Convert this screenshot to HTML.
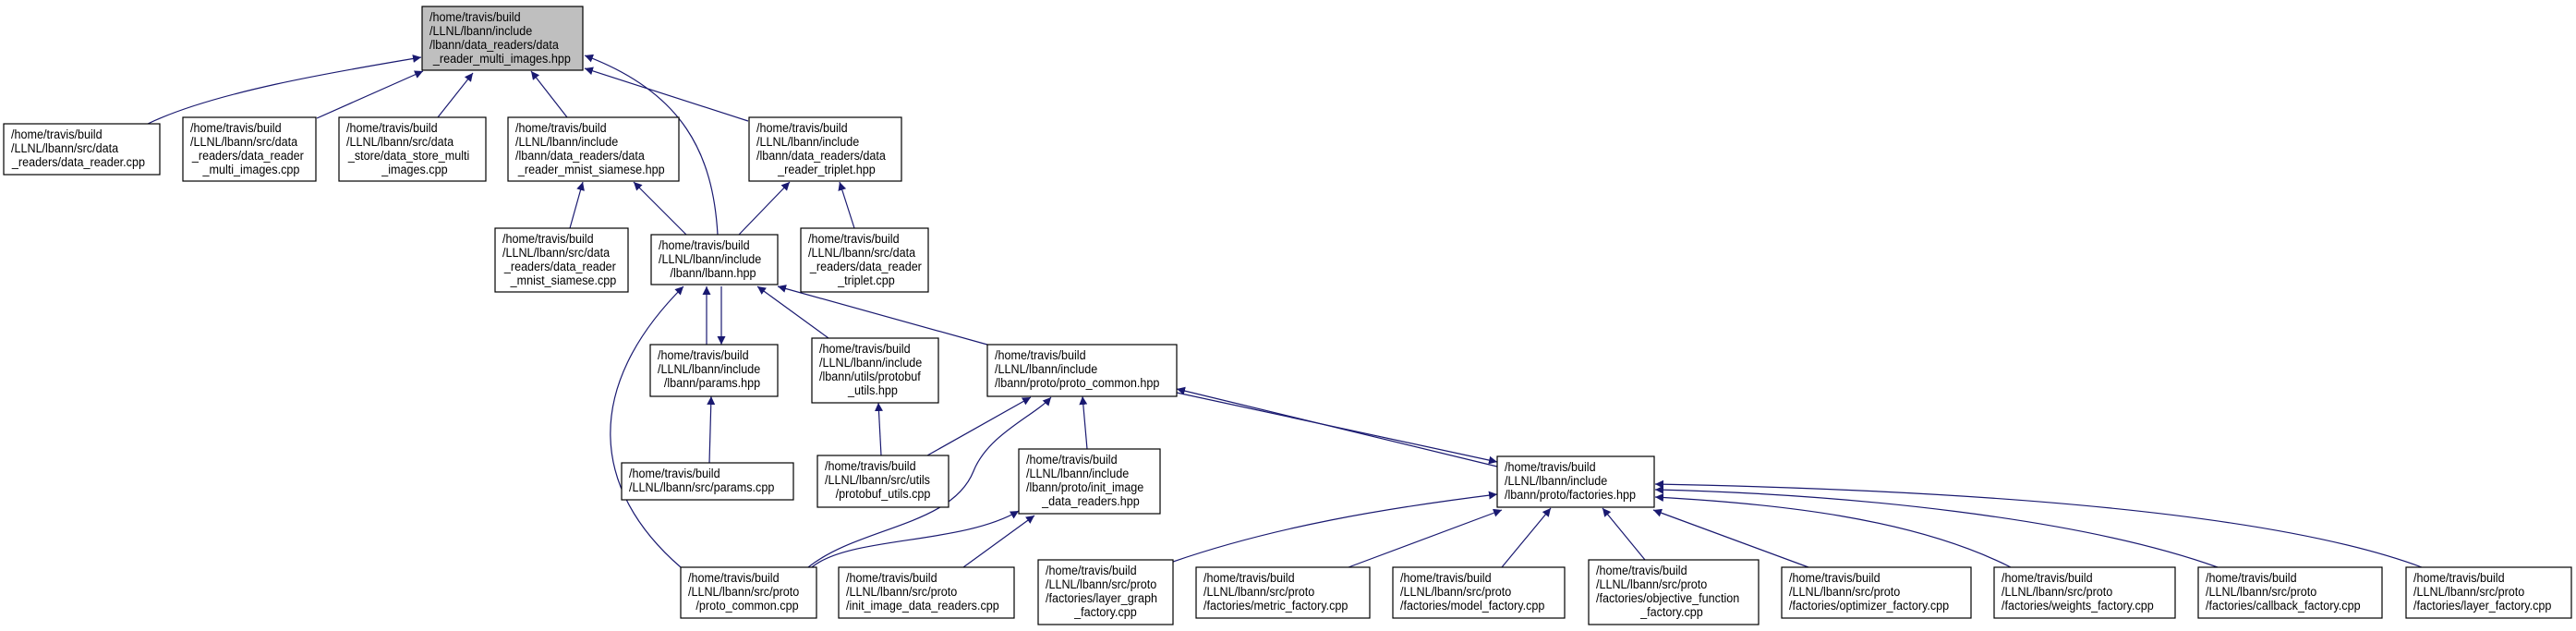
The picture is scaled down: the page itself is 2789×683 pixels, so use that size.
<!DOCTYPE html>
<html><head><meta charset="utf-8"><style>
html,body{margin:0;padding:0;background:#fff;}
svg{display:block;}
text{font-family:"Liberation Sans",sans-serif;font-size:14px;fill:#000;transform-box:fill-box;transform-origin:0 50%;transform:scaleX(0.9);}
text.m{transform-origin:50% 50%;}
.e{fill:none;stroke:#191970;stroke-width:1.2;}
.n{fill:#fff;stroke:#000;stroke-width:1.2;}
</style></head><body>
<svg width="2789" height="683" viewBox="0 0 2789 683" xmlns="http://www.w3.org/2000/svg">
<defs>
<marker id="a" viewBox="0 0 10 10" refX="10" refY="5" markerWidth="9" markerHeight="9" orient="auto" markerUnits="userSpaceOnUse">
<path d="M0,0 L10,5 L0,10 z" fill="#191970"/></marker>
</defs>
<g class="e" marker-end="url(#a)">
<path d="M160,134 C230,100 360,78 456,62"/>
<path d="M343,128 L458,77"/>
<path d="M474,127 L512,79"/>
<path d="M614,127 L575,77"/>
<path d="M810,131 L633,74"/>
<path d="M777,254 C772,167 740,100 633,60"/>
<path d="M617,247 L631,197"/>
<path d="M743,254 L686,197"/>
<path d="M800,254 L855,197"/>
<path d="M925,247 L909,197"/>
<path d="M765,373 L765,310"/>
<path d="M781,310 L781,373"/>
<path d="M897,366 L820,310"/>
<path d="M1069,373 L842,310"/>
<path d="M737,614 C640,530 630,420 740,310"/>
<path d="M768,501 L770,429"/>
<path d="M954,493 L951,436"/>
<path d="M1004,493 L1116,430"/>
<path d="M875,614 C930,570 1030,570 1054,510 C1070,470 1120,450 1138,430"/>
<path d="M879,614 C920,580 1040,590 1103,553"/>
<path d="M1177,486 L1172,429"/>
<path d="M1043,614 L1120,558"/>
<path d="M1274,425 L1621,500"/>
<path d="M1621,505 L1274,421" />
<path d="M1270,608 C1380,570 1500,550 1621,535"/>
<path d="M1460,614 L1626,552"/>
<path d="M1626,614 L1679,550"/>
<path d="M1781,606 L1735,550"/>
<path d="M1958,614 L1790,552"/>
<path d="M2177,614 C2070,560 1920,545 1792,538"/>
<path d="M2401,614 C2250,560 2000,535 1792,530"/>
<path d="M2622,614 C2450,550 2100,530 1792,524"/>
</g>
<g>
<rect x="457" y="7" width="174" height="69" fill="#bfbfbf" stroke="#000" stroke-width="1.2"/>
<text x="465" y="23">/home/travis/build</text><text x="465" y="38">/LLNL/lbann/include</text><text x="465" y="53">/lbann/data_readers/data</text><text x="469" y="68">_reader_multi_images.hpp</text>

<rect class="n" x="4" y="134" width="169" height="55"/>
<text x="12" y="150">/home/travis/build</text><text x="12" y="165">/LLNL/lbann/src/data</text><text x="13" y="180">_readers/data_reader.cpp</text>

<rect class="n" x="198" y="127" width="144" height="69"/>
<text x="206" y="143">/home/travis/build</text><text x="206" y="158">/LLNL/lbann/src/data</text><text x="208" y="173">_readers/data_reader</text><text class="m" x="272" y="188" text-anchor="middle">_multi_images.cpp</text>

<rect class="n" x="367" y="127" width="159" height="69"/>
<text x="375" y="143">/home/travis/build</text><text x="375" y="158">/LLNL/lbann/src/data</text><text x="377" y="173">_store/data_store_multi</text><text class="m" x="449" y="188" text-anchor="middle">_images.cpp</text>

<rect class="n" x="550" y="127" width="185" height="69"/>
<text x="558" y="143">/home/travis/build</text><text x="558" y="158">/LLNL/lbann/include</text><text x="558" y="173">/lbann/data_readers/data</text><text x="561" y="188">_reader_mnist_siamese.hpp</text>

<rect class="n" x="811" y="127" width="165" height="69"/>
<text x="819" y="143">/home/travis/build</text><text x="819" y="158">/LLNL/lbann/include</text><text x="819" y="173">/lbann/data_readers/data</text><text class="m" x="895" y="188" text-anchor="middle">_reader_triplet.hpp</text>

<rect class="n" x="536" y="247" width="144" height="69"/>
<text x="544" y="263">/home/travis/build</text><text x="544" y="278">/LLNL/lbann/src/data</text><text x="546" y="293">_readers/data_reader</text><text class="m" x="610" y="308" text-anchor="middle">_mnist_siamese.cpp</text>

<rect class="n" x="705" y="254" width="137" height="54"/>
<text x="713" y="270">/home/travis/build</text><text x="713" y="285">/LLNL/lbann/include</text><text class="m" x="772" y="300" text-anchor="middle">/lbann/lbann.hpp</text>

<rect class="n" x="867" y="247" width="138" height="69"/>
<text x="875" y="263">/home/travis/build</text><text x="875" y="278">/LLNL/lbann/src/data</text><text x="877" y="293">_readers/data_reader</text><text class="m" x="938" y="308" text-anchor="middle">_triplet.cpp</text>

<rect class="n" x="704" y="373" width="138" height="56"/>
<text x="712" y="389">/home/travis/build</text><text x="712" y="404">/LLNL/lbann/include</text><text class="m" x="771" y="419" text-anchor="middle">/lbann/params.hpp</text>

<rect class="n" x="879" y="366" width="137" height="70"/>
<text x="887" y="382">/home/travis/build</text><text x="887" y="397">/LLNL/lbann/include</text><text x="887" y="412">/lbann/utils/protobuf</text><text class="m" x="945" y="427" text-anchor="middle">_utils.hpp</text>

<rect class="n" x="1069" y="373" width="205" height="56"/>
<text x="1077" y="389">/home/travis/build</text><text x="1077" y="404">/LLNL/lbann/include</text><text x="1077" y="419">/lbann/proto/proto_common.hpp</text>

<rect class="n" x="673" y="501" width="186" height="40"/>
<text x="681" y="517">/home/travis/build</text><text x="681" y="532">/LLNL/lbann/src/params.cpp</text>

<rect class="n" x="885" y="493" width="142" height="56"/>
<text x="893" y="509">/home/travis/build</text><text x="893" y="524">/LLNL/lbann/src/utils</text><text class="m" x="956" y="539" text-anchor="middle">/protobuf_utils.cpp</text>

<rect class="n" x="1103" y="486" width="153" height="70"/>
<text x="1111" y="502">/home/travis/build</text><text x="1111" y="517">/LLNL/lbann/include</text><text x="1111" y="532">/lbann/proto/init_image</text><text class="m" x="1181" y="547" text-anchor="middle">_data_readers.hpp</text>

<rect class="n" x="1621" y="494" width="170" height="55"/>
<text x="1629" y="510">/home/travis/build</text><text x="1629" y="525">/LLNL/lbann/include</text><text x="1629" y="540">/lbann/proto/factories.hpp</text>

<rect class="n" x="737" y="614" width="147" height="55"/>
<text x="745" y="630">/home/travis/build</text><text x="745" y="645">/LLNL/lbann/src/proto</text><text class="m" x="809" y="660" text-anchor="middle">/proto_common.cpp</text>

<rect class="n" x="908" y="614" width="190" height="55"/>
<text x="916" y="630">/home/travis/build</text><text x="916" y="645">/LLNL/lbann/src/proto</text><text x="916" y="660">/init_image_data_readers.cpp</text>

<rect class="n" x="1124" y="606" width="146" height="70"/>
<text x="1132" y="622">/home/travis/build</text><text x="1132" y="637">/LLNL/lbann/src/proto</text><text x="1132" y="652">/factories/layer_graph</text><text class="m" x="1197" y="667" text-anchor="middle">_factory.cpp</text>

<rect class="n" x="1295" y="614" width="188" height="55"/>
<text x="1303" y="630">/home/travis/build</text><text x="1303" y="645">/LLNL/lbann/src/proto</text><text x="1303" y="660">/factories/metric_factory.cpp</text>

<rect class="n" x="1508" y="614" width="186" height="55"/>
<text x="1516" y="630">/home/travis/build</text><text x="1516" y="645">/LLNL/lbann/src/proto</text><text x="1516" y="660">/factories/model_factory.cpp</text>

<rect class="n" x="1720" y="606" width="184" height="70"/>
<text x="1728" y="622">/home/travis/build</text><text x="1728" y="637">/LLNL/lbann/src/proto</text><text x="1728" y="652">/factories/objective_function</text><text class="m" x="1810" y="667" text-anchor="middle">_factory.cpp</text>

<rect class="n" x="1929" y="614" width="205" height="55"/>
<text x="1937" y="630">/home/travis/build</text><text x="1937" y="645">/LLNL/lbann/src/proto</text><text x="1937" y="660">/factories/optimizer_factory.cpp</text>

<rect class="n" x="2159" y="614" width="196" height="55"/>
<text x="2167" y="630">/home/travis/build</text><text x="2167" y="645">/LLNL/lbann/src/proto</text><text x="2167" y="660">/factories/weights_factory.cpp</text>

<rect class="n" x="2380" y="614" width="199" height="55"/>
<text x="2388" y="630">/home/travis/build</text><text x="2388" y="645">/LLNL/lbann/src/proto</text><text x="2388" y="660">/factories/callback_factory.cpp</text>

<rect class="n" x="2605" y="614" width="179" height="55"/>
<text x="2613" y="630">/home/travis/build</text><text x="2613" y="645">/LLNL/lbann/src/proto</text><text x="2613" y="660">/factories/layer_factory.cpp</text>
</g>
</svg>
</body></html>
